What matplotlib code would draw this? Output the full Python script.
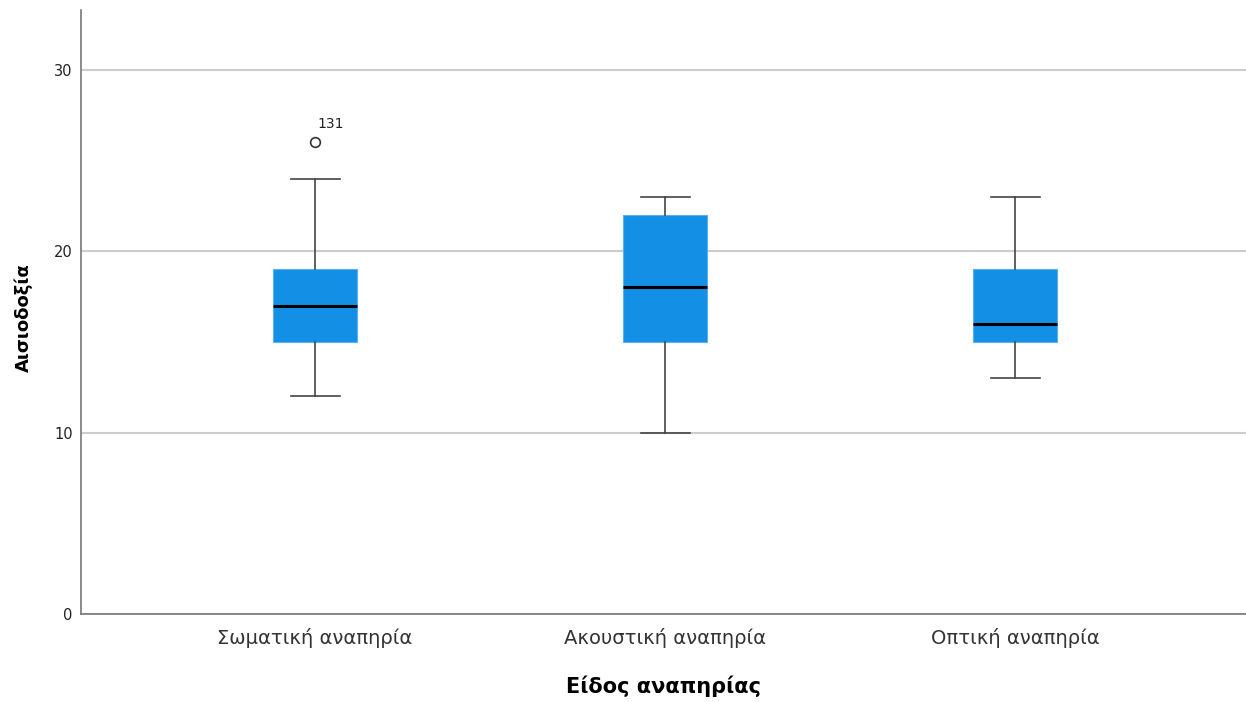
import matplotlib.pyplot as plt

plt.rcParams['font.family'] = ['DejaVu Sans']

categories = ['Σωματική αναπηρία', 'Ακουστική αναπηρία', 'Οπτική αναπηρία']
whislo = [12, 10, 13]
q1 = [15, 15, 15]
med = [17, 18, 16]
q3 = [19, 22, 19]
whishi = [24, 23, 23]
fliers = [[26], [], []]
flier_ids = [['131'], [], []]

stats = []
for i in range(len(categories)):
    stats.append(dict(whislo=whislo[i], q1=q1[i], med=med[i], q3=q3[i],
                      whishi=whishi[i], fliers=fliers[i], label=categories[i]))

fig = plt.figure(figsize=(12.46, 7.02), dpi=100)
ax = fig.add_axes([0.065, 0.1254, 0.935, 0.8604])

pos = list(range(len(categories)))
ax.bxp(stats, positions=pos, widths=0.24, patch_artist=True,
       boxprops=dict(facecolor='#1390e6', edgecolor='#5ab0ee', linewidth=0.8),
       medianprops=dict(color='black', linewidth=2.2),
       whiskerprops=dict(color='#444444', linewidth=1.2),
       capprops=dict(color='#444444', linewidth=1.2),
       capwidths=0.14,
       flierprops=dict(marker='o', markerfacecolor='white', markeredgecolor='#333333',
                       markersize=7, markeredgewidth=1.2),
       zorder=3)

for i in pos:
    for v, lab in zip(fliers[i], flier_ids[i]):
        ax.annotate(lab, (i, v), xytext=(2, 8), textcoords='offset points',
                    fontsize=10, color='#222222', ha='left', va='bottom')

ax.set_xlim(-0.669, 2.66)
ax.set_ylim(0, 33.3)
ax.set_yticks([0, 10, 20, 30])
ax.yaxis.grid(True, color='#cccccc', linewidth=1.5, zorder=0)
ax.set_axisbelow(True)
ax.tick_params(axis='both', length=0)
ax.tick_params(axis='y', labelsize=10.5, pad=6, colors='#222222')
ax.tick_params(axis='x', labelsize=14, pad=10, colors='#333333')
ax.set_xticks(pos)
ax.set_xticklabels(categories)

for s in ['top', 'right']:
    ax.spines[s].set_visible(False)
for s in ['left', 'bottom']:
    ax.spines[s].set_color('#777777')
    ax.spines[s].set_linewidth(1.2)

ax.set_xlabel('Είδος αναπηρίας', fontsize=15, fontweight='bold', labelpad=20)
ax.set_ylabel('Αισιοδοξία', fontsize=13, fontweight='bold')
ax.yaxis.set_label_coords(-0.041, 0.49)

fig.savefig('out.png', dpi=100)
